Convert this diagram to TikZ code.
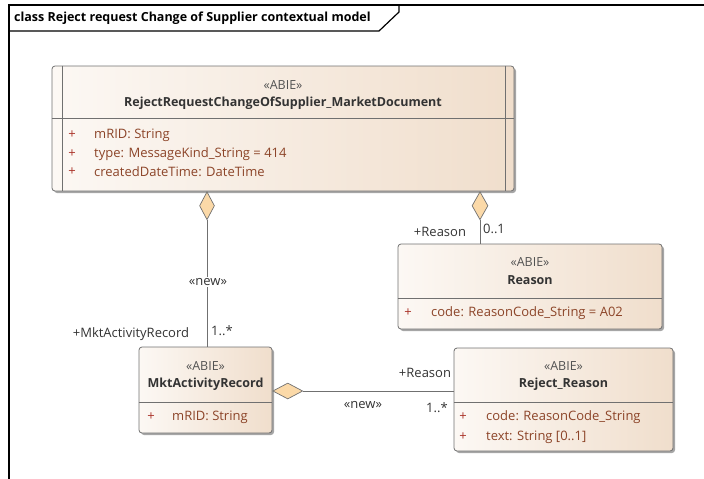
\documentclass[tikz,border=0pt]{standalone}
\usepackage{fontspec}
\setmainfont{Open Sans}
\usetikzlibrary{shapes.geometric,shadows}
\definecolor{boxleft}{RGB}{252,248,244}
\definecolor{boxright}{RGB}{240,222,204}
\definecolor{edge}{RGB}{112,112,112}
\definecolor{attr}{RGB}{140,68,40}
\definecolor{plus}{RGB}{170,50,40}
\definecolor{ink}{RGB}{51,51,51}
\definecolor{diafill}{RGB}{251,217,168}
\tikzset{
  classbox/.style={draw=edge, line width=0.8pt, rounded corners=3pt, inner sep=0pt,
    left color=boxleft, right color=boxright,
    drop shadow={shadow xshift=2pt, shadow yshift=-2pt, opacity=0.35, fill=black}},
  stereo/.style={text=ink!85, font=\fontsize{12.5}{15}\selectfont, inner sep=0pt},
  cname/.style={text=ink, font=\fontsize{12.5}{15}\selectfont\bfseries, inner sep=0pt},
  attrib/.style={anchor=west, text=attr, font=\fontsize{13}{15}\selectfont, inner sep=0pt},
  vis/.style={text=plus, font=\fontsize{13}{15}\selectfont, inner sep=0pt},
  role/.style={text=ink, font=\fontsize{13}{15}\selectfont, inner sep=1pt},
  assoc/.style={draw=edge, line width=0.8pt},
  agg/.style={diamond, draw=edge, fill=diafill, line width=0.7pt, inner sep=0pt},
}

\begin{document}
\begin{tikzpicture}[x=1pt,y=-1pt]
  %%%%% START %%%%%
  \def\docy{118}
  \def\lowy{402}
  \useasboundingbox (0,0) rectangle (704,479);

  % frame and its name tab
  \draw[line width=1.2pt] (9,479) -- (9,5) -- (704,5);
  \draw[line width=1.2pt] (9,31) -- (379,31) -- (399,12) -- (399,5);
  \node[anchor=west, inner sep=0pt, font=\fontsize{12.5}{15}\selectfont\bfseries] (title) at (14,18)
    {class Reject request Change of Supplier contextual model};

  % classes
  \node[classbox, minimum width=462pt, minimum height=125pt] (doc) at (283,128.5) {};
  \draw[edge, line width=0.8pt] (62,0 |- doc.north) -- (62,0 |- doc.south);
  \draw[edge, line width=0.8pt] (505,0 |- doc.north) -- (505,0 |- doc.south);
  \draw[edge, line width=0.8pt] (doc.west |- 0,\docy) -- (doc.east |- 0,\docy);
  \node[stereo] (docst) at (283,85) {«ABIE»};
  \node[cname] (docname) at (283,103) {RejectRequestChangeOfSupplier\_MarketDocument};
  \node[vis] at (72,135) {+};
  \node[attrib] (docmrid) at (94,135) {mRID: String};
  \node[vis] at (72,154) {+};
  \node[attrib] (doctype) at (94,154) {type: MessageKind\_String = 414};
  \node[vis] at (72,172) {+};
  \node[attrib] (doccdt) at (94,172) {createdDateTime: DateTime};

  \node[classbox, minimum width=264pt, minimum height=85pt] (reason) at (530,286.5) {};
  \draw[edge, line width=0.8pt] (reason.west |- 0,298) -- (reason.east |- 0,298);
  \node[stereo] (reasonst) at (530,262) {«ABIE»};
  \node[cname] (reasonname) at (530,280) {Reason};
  \node[vis] at (408,313) {+};
  \node[attrib] (reasoncode) at (431,313) {code: ReasonCode\_String = A02};

  \node[classbox, minimum width=133pt, minimum height=86pt] (mkt) at (205.5,390) {};
  \draw[edge, line width=0.8pt] (mkt.west |- 0,\lowy) -- (mkt.east |- 0,\lowy);
  \node[stereo] (mktst) at (205.5,366) {«ABIE»};
  \node[cname] (mktname) at (205.5,384) {MktActivityRecord};
  \node[vis] at (151,417) {+};
  \node[attrib] (mktmrid) at (172,417) {mRID: String};

  \node[classbox, minimum width=219pt, minimum height=103pt] (reject) at (563.5,399.5) {};
  \draw[edge, line width=0.8pt] (reject.west |- 0,\lowy) -- (reject.east |- 0,\lowy);
  \node[stereo] (rejectst) at (563.5,366) {«ABIE»};
  \node[cname] (rejectname) at (563.5,384) {Reject\_Reason};
  \node[vis] at (463,417) {+};
  \node[attrib] (rejectcode) at (486,417) {code: ReasonCode\_String};
  \node[vis] at (463,437) {+};
  \node[attrib] (rejecttext) at (486,437) {text: String [0..1]};

  % aggregations
  \node[agg, minimum width=15pt, minimum height=28pt, anchor=north] (aggmkt) at (207,0 |- doc.south) {};
  \draw[assoc] (aggmkt.south) -- (aggmkt.south |- mkt.north);
  \node[role, fill=white] (newmkt) at (208,282) {«new»};
  \node[role] (rolemkt) at (131,334) {+MktActivityRecord};
  \node[role] (multmkt) at (222,331) {1..*};

  \node[agg, minimum width=16pt, minimum height=28pt, anchor=north] (aggrsn) at (480,0 |- doc.south) {};
  \draw[assoc] (aggrsn.south) -- (aggrsn.south |- reason.north);
  \node[role] (rolersn) at (440,232) {+Reason};
  \node[role] (multrsn) at (494,229) {0..1};

  \node[agg, minimum width=30pt, minimum height=16pt, anchor=west] (aggrej) at (mkt.east |- 0,391) {};
  \draw[assoc] (aggrej.east) -- (aggrej.east -| reject.west);
  \node[role] (rolerej) at (425,373) {+Reason};
  \node[role] (newrej) at (363,405) {«new»};
  \node[role] (multrej) at (437,408) {1..*};
  %%%%% END %%%%%
\end{tikzpicture}
\end{document}
